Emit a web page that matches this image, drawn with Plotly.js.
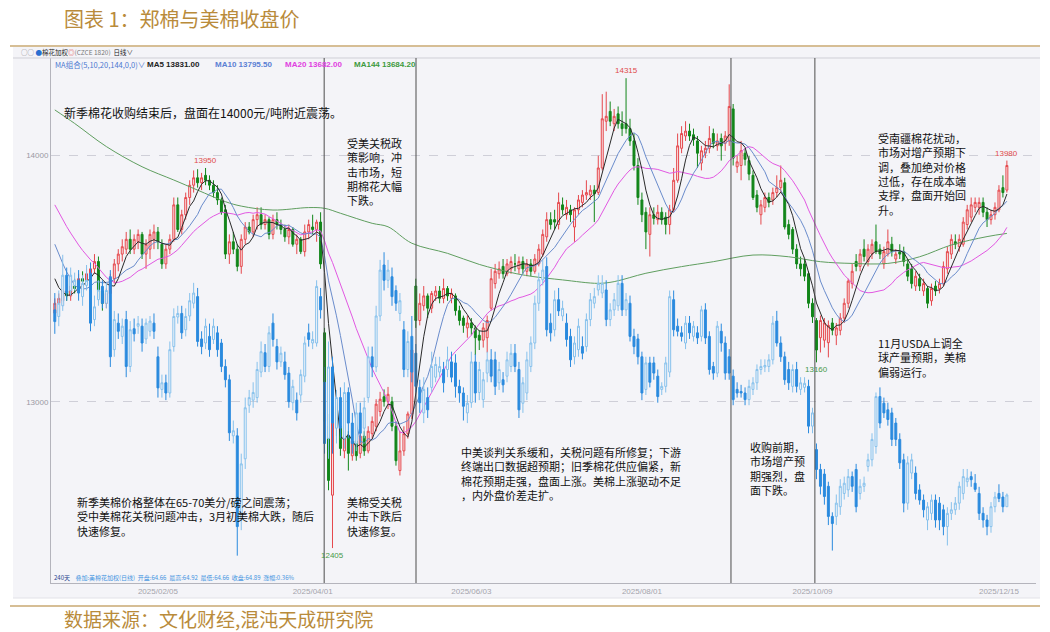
<!DOCTYPE html>
<html><head><meta charset="utf-8">
<script src="https://cdn.plot.ly/plotly-3.0.1.min.js"></script>
<style>html,body{margin:0;padding:0;background:#fff;}#chart{width:1050px;height:632px;}</style>
</head><body><div id="chart"></div>
<script>
// ---------- data ----------
const tickIdx = [26, 65, 105, 148, 191, 238];
const tickText = ['2025/02/05','2025/04/01','2025/06/03','2025/08/01','2025/10/09','2025/12/15'];

// Zhengzhou cotton (CZCE weighted) closes before the visible window
const zcPriorClose = [14050,14020,14000,13990,13980,13950,13930,13920,13900,13860,13840,13810,13780,13750,13720,13600,13540,13500,13460];

const zcOpen = [
13360,13400,13410,13450,13430,13470,13460,13500,13490,13520,
13540,13570,13450,13400,13440,13500,13560,13600,13620,13660,
13620,13650,13680,13600,13620,13660,13690,13640,13560,13620,
13660,13800,13700,13760,13830,13880,13910,13890,13920,13900,
13880,13850,13820,13780,13600,13650,13620,13550,13660,13710,
13690,13740,13760,13720,13740,13680,13740,13720,13700,13670,
13700,13640,13660,13610,13690,13710,13700,13730,13280,12900,
12620,12960,12900,12800,12860,12780,12840,12790,12860,12800,
12870,12900,12960,13020,13000,13000,12900,12720,12800,12870,
12950,13470,13330,13390,13430,13380,13430,13450,13420,13460,
13420,13430,13370,13340,13300,13320,13300,13270,13250,13260,
13380,13480,13520,13550,13520,13540,13560,13540,13570,13530,
13560,13530,13560,13600,13670,13740,13740,13720,13800,13760,
13780,13710,13780,13810,13840,13840,13860,13850,13950,14140,
14180,14130,14170,14130,14130,14110,14060,13960,13820,13770,
13680,13760,13740,13770,13750,13720,13780,13900,14030,14080,
14100,14085,14060,13970,14010,14030,14090,14040,14070,14050,
14060,14190,13955,13960,14010,13980,13920,13840,13760,13790,
13830,13820,13850,13870,13890,13720,13700,13620,13560,13560,
13520,13400,13330,13260,13250,13240,13320,13270,13290,13340,
13400,13480,13570,13550,13620,13570,13600,13650,13620,13560,
13600,13640,13580,13610,13610,13560,13540,13470,13500,13450,
13460,13410,13470,13460,13480,13540,13600,13650,13630,13640,
13720,13750,13790,13790,13810,13770,13740,13760,13780,13870,
13860];
const zcHigh = [
13420,13440,13460,13480,13490,13500,13520,13530,13540,13560,
13600,13590,13470,13460,13520,13580,13620,13660,13690,13700,
13680,13700,13690,13660,13700,13720,13710,13660,13640,13680,
13830,13830,13780,13850,13900,13940,13945,13930,13950,13920,
13900,13880,13830,13800,13680,13690,13640,13680,13730,13730,
13760,13790,13790,13760,13750,13760,13770,13740,13720,13720,
13710,13680,13670,13720,13740,13760,13740,13770,13300,12950,
13050,13000,12930,12880,12880,12860,12870,12880,12880,12900,
12940,13010,13040,13050,13060,13020,12920,12880,12900,12960,
13230,13500,13440,13470,13440,13450,13470,13470,13500,13470,
13460,13440,13390,13350,13350,13340,13310,13290,13320,13350,
13540,13560,13570,13580,13580,13590,13600,13590,13590,13580,
13580,13600,13640,13700,13770,13770,13780,13850,13830,13820,
13800,13790,13840,13860,13900,13880,13880,14000,14250,14260,
14220,14190,14200,14180,14315,14150,14090,13990,13850,13790,
13790,13790,13800,13790,13770,13800,13950,14090,14120,14140,
14130,14110,14080,14040,14060,14120,14110,14090,14090,14100,
14290,14210,14000,14060,14030,14000,13940,13860,13820,13850,
13850,13870,13920,13960,13910,13740,13710,13640,13590,13580,
13530,13420,13340,13350,13340,13330,13340,13320,13360,13420,
13500,13560,13600,13620,13660,13640,13660,13720,13640,13630,
13700,13670,13620,13640,13630,13580,13560,13530,13520,13500,
13470,13480,13490,13500,13570,13630,13680,13680,13680,13750,
13800,13830,13830,13830,13830,13790,13780,13810,13880,13920,
13980];
const zcLow = [
13340,13370,13390,13410,13410,13440,13440,13470,13470,13490,
13520,13420,13370,13380,13420,13480,13530,13570,13600,13600,
13600,13620,13580,13540,13580,13620,13620,13540,13540,13600,
13650,13690,13680,13740,13800,13850,13870,13860,13880,13860,
13830,13800,13760,13580,13560,13600,13530,13520,13640,13680,
13670,13700,13700,13700,13660,13660,13700,13680,13650,13640,
13630,13600,13600,13590,13660,13680,13650,13540,12900,12640,
12405,12860,12780,12770,12720,12760,12760,12770,12780,12790,
12850,12880,12940,12980,12970,12880,12740,12700,12780,12850,
12930,13300,13310,13370,13340,13360,13410,13400,13400,13410,
13400,13350,13310,13280,13260,13270,13190,13210,13220,13200,
13370,13460,13500,13500,13510,13520,13530,13520,13520,13510,
13510,13520,13550,13590,13650,13700,13700,13700,13760,13740,
13730,13650,13760,13790,13820,13820,13730,13840,13940,14100,
14120,14100,14110,14080,14090,14040,13940,13800,13730,13620,
13590,13720,13720,13720,13680,13680,13770,13890,14010,14060,
14060,14040,13950,13940,13990,14010,14030,14020,13980,14020,
14040,13960,13930,13900,13960,13900,13820,13770,13720,13770,
13790,13800,13830,13850,13700,13660,13600,13540,13510,13490,
13380,13320,13160,13200,13220,13180,13270,13230,13270,13320,
13380,13460,13530,13530,13570,13550,13580,13600,13580,13540,
13590,13590,13560,13580,13550,13490,13460,13450,13450,13430,
13380,13390,13430,13440,13470,13520,13580,13620,13610,13630,
13700,13730,13770,13760,13750,13710,13720,13740,13770,13830,
13850];
const zcClose = [
13400,13420,13450,13430,13470,13460,13500,13490,13520,13540,
13570,13450,13400,13440,13500,13560,13600,13630,13660,13620,
13660,13680,13600,13640,13680,13690,13650,13560,13620,13660,
13800,13700,13760,13830,13880,13910,13890,13910,13900,13880,
13850,13820,13770,13600,13650,13620,13550,13660,13710,13690,
13740,13760,13720,13740,13680,13740,13720,13700,13670,13700,
13640,13660,13610,13690,13720,13700,13730,13560,12920,12680,
12980,12900,12810,12860,12790,12840,12780,12860,12800,12880,
12920,12990,13010,13000,13030,12900,12760,12800,12870,12950,
13210,13330,13400,13430,13380,13440,13450,13420,13460,13430,
13440,13370,13330,13310,13320,13300,13260,13250,13300,13330,
13500,13530,13540,13520,13560,13570,13560,13570,13540,13560,
13530,13580,13620,13680,13740,13720,13730,13810,13780,13790,
13760,13780,13820,13840,13850,13860,13845,13950,14150,14160,
14140,14160,14130,14110,14110,14060,13960,13830,13760,13690,
13760,13745,13770,13740,13720,13780,13900,14040,14090,14100,
14080,14065,14010,14020,14030,14070,14050,14060,14040,14080,
14200,13990,13975,14020,13985,13925,13830,13790,13800,13830,
13810,13850,13870,13900,13710,13680,13620,13560,13540,13510,
13400,13345,13210,13330,13320,13310,13290,13300,13340,13400,
13490,13530,13550,13600,13590,13620,13640,13610,13600,13610,
13650,13610,13600,13600,13570,13510,13480,13510,13470,13480,
13400,13460,13450,13480,13550,13610,13660,13640,13660,13730,
13780,13800,13810,13810,13770,13740,13760,13790,13860,13850,
13960];

// ICE cotton weighted (US cents/lb), overlay
const usOpen = [
68.52,68.39,68.60,69.20,68.90,69.00,69.10,68.78,69.00,69.24,
68.33,68.72,68.98,68.65,69.17,67.74,68.26,68.00,68.33,67.41,
68.15,68.20,68.20,67.95,68.10,68.26,67.60,66.96,67.09,66.89,
67.80,68.38,68.45,68.13,68.40,68.65,68.78,67.95,67.87,68.00,
67.94,68.07,67.87,67.41,67.15,66.05,66.05,64.40,65.60,66.65,
66.75,66.80,67.30,67.68,67.41,68.26,67.80,67.50,67.50,67.28,
66.70,66.75,66.85,67.22,68.07,67.87,67.87,68.78,67.10,66.00,
67.40,66.20,66.80,66.00,66.90,66.30,65.90,66.50,66.20,66.80,
67.60,67.40,68.40,69.40,69.10,69.17,68.90,68.45,68.13,67.35,
68.00,67.67,67.00,66.50,66.80,67.00,67.20,67.30,67.35,67.35,
67.50,67.48,67.02,66.89,66.50,66.70,67.50,66.90,66.76,67.28,
67.54,67.54,67.09,67.15,67.22,67.41,67.67,67.35,66.69,66.89,
67.41,67.87,68.65,69.11,69.37,68.26,68.13,68.72,68.40,68.26,
68.00,67.60,67.74,67.80,67.80,68.33,68.65,68.91,68.85,68.91,
68.33,68.52,68.60,69.04,68.52,68.65,68.00,67.95,67.60,66.96,
67.48,67.48,67.22,66.96,67.02,67.30,68.72,68.20,68.07,67.87,
68.26,68.00,68.07,68.00,68.52,68.00,67.41,67.28,68.10,67.87,
67.60,67.22,66.96,66.92,66.89,66.76,66.96,67.09,67.35,67.40,
67.41,67.54,68.30,67.87,67.60,67.35,67.02,67.35,66.96,67.00,
67.02,66.24,65.78,65.39,65.30,65.06,64.47,64.47,64.66,64.92,
64.99,65.25,65.39,64.92,65.06,65.45,65.58,65.84,66.82,66.69,
66.56,66.50,66.30,65.98,65.58,64.73,65.32,65.32,64.99,64.79,
64.40,64.53,64.79,64.73,64.60,64.27,64.53,64.60,64.73,64.92,
65.15,65.25,65.12,64.92,64.53,64.40,64.27,64.66,64.92,64.85,
64.66];
const usHigh = [
68.85,68.90,69.60,69.35,69.35,69.25,69.30,69.20,69.40,69.45,
68.80,69.10,69.10,69.05,69.30,68.50,68.45,68.35,68.50,68.30,
68.35,68.40,68.35,68.35,68.40,68.45,67.80,67.25,67.25,67.90,
68.55,68.60,68.60,68.55,68.85,69.05,68.95,68.10,68.35,68.25,
68.35,68.20,67.95,67.55,67.25,66.35,66.20,65.70,66.80,66.95,
67.10,67.50,67.90,67.85,68.20,68.45,67.95,67.80,67.70,67.40,
67.15,66.90,67.35,68.00,68.25,68.10,69.10,68.95,67.40,67.90,
67.60,66.95,67.00,67.10,67.00,66.50,66.70,66.70,66.80,67.80,
67.80,68.60,69.50,69.65,69.50,69.35,69.00,68.85,68.30,68.10,
68.40,67.85,67.15,67.20,67.00,67.70,67.60,67.60,67.50,67.80,
67.70,67.65,67.15,67.00,66.85,67.70,67.65,67.50,67.30,67.70,
67.75,67.70,67.50,67.30,67.70,67.85,67.85,67.50,67.20,67.70,
68.00,68.80,69.25,69.50,69.55,68.45,68.90,68.95,68.70,68.45,
68.15,68.00,68.35,68.00,68.45,68.85,68.95,69.20,69.20,69.10,
68.65,68.85,69.20,69.20,68.85,68.80,68.15,68.05,67.70,67.60,
67.60,67.60,67.35,67.10,67.60,68.90,68.90,68.35,68.20,68.40,
68.40,68.30,68.20,68.60,68.65,68.10,67.50,68.30,68.25,68.00,
67.75,67.35,67.10,67.05,67.00,67.15,67.20,67.45,67.55,67.55,
67.65,68.40,68.50,68.00,67.70,67.50,67.45,67.50,67.20,67.20,
67.15,66.60,65.90,65.50,65.40,65.15,64.55,64.90,65.20,65.25,
65.40,65.35,65.50,65.20,65.25,65.70,66.10,66.90,67.00,66.80,
66.70,66.60,66.40,66.10,65.70,65.65,65.70,65.45,65.10,64.90,
64.75,64.90,64.90,64.85,64.70,64.65,64.75,64.85,65.15,65.40,
65.40,65.35,65.30,65.05,64.65,64.50,64.75,64.95,65.10,64.95,
64.92];
const usLow = [
68.05,68.20,68.50,68.70,68.80,68.90,68.70,68.60,68.90,68.10,
68.20,68.60,68.55,68.55,67.40,67.60,67.95,67.85,67.20,67.30,
67.90,68.05,67.70,67.85,68.00,67.95,66.80,66.80,66.75,66.80,
67.70,68.25,67.95,68.00,68.30,68.55,67.80,67.65,67.75,67.60,
67.85,67.60,67.30,67.00,65.95,65.90,63.70,64.20,65.40,66.50,
66.60,66.70,67.20,67.30,67.30,67.80,67.35,67.40,67.15,66.60,
66.55,66.35,66.70,67.10,67.80,67.75,67.80,68.35,65.70,65.60,
65.70,65.90,66.00,65.80,66.00,65.70,65.75,65.90,66.00,66.70,
67.20,67.30,68.30,68.90,68.95,68.60,68.50,68.30,67.20,67.20,
67.10,66.90,66.50,66.30,66.40,66.90,67.10,67.20,66.90,67.20,
67.10,66.80,66.70,66.35,66.30,66.60,66.70,66.75,66.60,67.10,
67.10,66.85,66.95,66.90,67.10,67.30,67.30,66.40,66.50,66.75,
67.30,67.75,68.50,69.00,68.00,67.90,68.00,68.40,68.30,67.80,
67.40,67.45,67.60,67.55,67.70,68.20,68.55,68.80,68.75,68.20,
68.20,68.40,68.50,68.40,68.40,67.90,67.65,67.45,66.75,66.85,
67.00,67.15,66.70,66.85,66.90,67.20,68.00,68.00,67.90,67.75,
67.95,67.90,67.85,67.90,67.85,67.25,67.15,67.20,67.70,67.15,
67.15,66.65,66.80,66.80,66.65,66.65,66.85,66.95,67.25,67.30,
67.30,67.45,67.80,67.50,67.05,66.95,66.90,66.90,66.85,66.90,
66.10,66.10,65.20,64.90,64.70,64.30,63.80,64.30,64.50,64.80,
64.85,64.95,64.55,64.80,64.95,65.35,65.45,65.70,66.20,66.40,
66.25,65.85,65.85,65.40,64.55,64.60,65.20,64.80,64.70,64.45,
64.20,64.40,64.25,64.20,64.10,63.90,64.40,64.50,64.60,64.80,
65.05,65.05,64.95,64.40,64.25,64.10,64.15,64.55,64.75,64.55,
64.66];
const usClose = [
68.29,68.65,69.20,68.85,69.20,69.10,68.85,69.04,69.10,68.26,
68.58,68.91,68.65,68.90,67.60,68.33,68.10,68.20,67.41,68.13,
68.05,68.25,67.87,68.26,68.30,68.10,66.99,67.09,66.89,67.74,
68.39,68.45,68.07,68.39,68.70,68.85,67.90,67.80,68.20,67.74,
68.20,67.74,67.41,67.15,66.11,66.15,64.27,65.50,66.60,66.80,
66.90,67.35,67.70,67.41,68.07,67.94,67.50,67.67,67.25,66.72,
67.02,66.50,67.25,67.87,67.94,67.94,68.98,68.52,65.90,67.40,
66.30,66.80,66.20,66.90,66.30,65.90,66.50,66.10,66.60,67.60,
67.40,68.40,69.30,69.10,69.30,68.78,68.65,68.70,67.35,67.90,
67.30,67.02,66.70,66.96,66.56,67.41,67.45,67.41,67.09,67.54,
67.20,67.02,66.89,66.63,66.69,67.50,66.89,67.35,67.15,67.54,
67.22,67.02,67.35,67.05,67.54,67.67,67.41,66.56,67.09,67.54,
67.87,68.65,69.11,69.30,68.13,68.07,68.72,68.50,68.55,67.94,
67.54,67.87,68.20,67.67,68.33,68.72,68.78,69.04,69.04,68.33,
68.52,68.72,69.04,68.52,68.72,68.00,67.80,67.60,66.89,67.48,
67.10,67.28,66.82,67.02,67.48,68.78,68.13,68.10,68.00,68.26,
68.07,68.20,67.97,68.52,67.97,67.35,67.28,68.20,67.87,67.28,
67.28,66.76,66.89,66.89,66.76,67.02,67.09,67.35,67.41,67.43,
67.54,68.26,67.87,67.60,67.15,67.09,67.35,67.02,67.09,67.08,
66.24,66.50,65.39,65.06,64.86,64.47,64.33,64.73,65.06,65.12,
65.25,65.06,64.66,65.06,65.12,65.58,65.98,66.82,66.30,66.50,
66.37,65.98,65.98,65.52,64.73,65.52,65.58,64.92,64.79,64.60,
64.66,64.79,64.40,64.40,64.27,64.53,64.60,64.73,65.06,65.25,
65.22,65.19,65.00,64.53,64.40,64.27,64.66,64.85,64.82,64.66,
64.89];

// MA144 (needs history beyond the window)
const ma144Idx = [0,5,13,22,30,36,43,47,55,64,68,72,80,84,90,99,107,115,120,128,137,141,149,158,166,176,185,193,201,210,218,226,235,240];
const ma144Val = [14186,14131,14037,13955,13901,13860,13813,13795,13779,13789,13786,13766,13725,13711,13644,13603,13558,13525,13510,13495,13481,13488,13522,13549,13569,13596,13589,13569,13562,13562,13589,13637,13671,13684];

// ---------- geometry ----------
const PL = 51, PR = 1036, PT = 58, PB = 583;
const px = X => (X - PL) / (PR - PL);
const py = Y => (PB - Y) / (PB - PT);
const STEP = 3.967, X0 = 54.8;
const xRange = [(PL - X0) / STEP, (PR - X0) / STEP];
const yRange = [12263, 14397];
const y2Range = [63.164, 73.459];
const dividerIdx = [67.9, 91.05, 170.45, 191.6];

const N = zcClose.length;
const idx = Array.from({length: N}, (_, i) => i);
function sma(n) {
  const all = zcPriorClose.concat(zcClose), off = zcPriorClose.length;
  return zcClose.map((_, i) => {
    const k = i + off, s = Math.max(0, k - n + 1);
    let sum = 0; for (let j = s; j <= k; j++) sum += all[j];
    return sum / (k - s + 1);
  });
}

const CJK = '"Noto Sans CJK SC", "Noto Sans", sans-serif';
const LAT = '"Liberation Sans", Arial, sans-serif';

const traces = [
  {type:'candlestick', x: idx, open: usOpen, high: usHigh, low: usLow, close: usClose, yaxis:'y2',
   increasing:{line:{color:'#86c1ec', width:1}, fillcolor:'rgba(246,246,250,0.95)'},
   decreasing:{line:{color:'#2a8ade', width:1}, fillcolor:'#2a8ade'},
   whiskerwidth:0, hoverinfo:'skip', showlegend:false},
  {type:'candlestick', x: idx, open: zcOpen, high: zcHigh, low: zcLow, close: zcClose,
   increasing:{line:{color:'#e5474c', width:1}, fillcolor:'#fbe8e9'},
   decreasing:{line:{color:'#12861a', width:1}, fillcolor:'#12861a'},
   whiskerwidth:0, hoverinfo:'skip', showlegend:false},
  {type:'scatter', mode:'lines', x: ma144Idx, y: ma144Val, line:{color:'#5f9e5f', width:1, shape:'spline'}, hoverinfo:'skip', showlegend:false},
  {type:'scatter', mode:'lines', x: idx, y: sma(20), line:{color:'#e258e2', width:1}, hoverinfo:'skip', showlegend:false},
  {type:'scatter', mode:'lines', x: idx, y: sma(10), line:{color:'#6a8ccc', width:1}, hoverinfo:'skip', showlegend:false},
  {type:'scatter', mode:'lines', x: idx, y: sma(5), line:{color:'#2a2a2a', width:1}, hoverinfo:'skip', showlegend:false}
];

// ---------- texts ----------
const anns = [];
function txt(text, X, Y, size, color, family, anchor) {
  anns.push({xref:'paper', yref:'paper', x: px(X), y: py(Y), text: text, showarrow:false,
    xanchor: anchor || 'left', yanchor:'middle', font:{family: family || CJK, size: size, color: color}});
}
// multi-line note: one text element, first line centred near Y
function block(lines, X, Y) {
  anns.push({xref:'paper', yref:'paper', x: px(X), y: py(Y - 8), text: lines.join('<br>'), showarrow:false,
    xanchor:'left', yanchor:'top', align:'left', borderpad:0, font:{family: CJK, size: 11, color:'#111111'}});
}

txt('图表 1：郑棉与美棉收盘价', 62, 18, 20, '#b98b3b');
txt('数据来源：文化财经,混沌天成研究院', 62, 618, 19, '#b98b3b');

txt('<span style="color:#888">○○</span> <span style="color:#2a6fd0">●</span>棉花加权<span style="color:#e05050">◎</span><span style="color:#777">(CZCE 1820)</span>  日线∨', 19, 52, 6.5, '#222');
txt('MA组合(5,10,20,144,0,0)∨', 53, 64, 7.5, '#4a78d0');
txt('<b>MA5 13831.00</b>', 145, 64, 8, '#222222', LAT);
txt('<b>MA10 13795.50</b>', 213, 64, 8, '#5b80d4', LAT);
txt('<b>MA20 13682.00</b>', 283, 64, 8, '#e040e0', LAT);
txt('<b>MA144 13684.20</b>', 352, 64, 8, '#3e9a3e', LAT);

txt('<span style="color:#1c3f8c">240天</span>    叠加:美棉花加权(日线)  开盘:64.66  最高:64.92  最低:64.66  收盘:64.89  涨幅:0.36%', 52, 577, 6, '#3f93e0');

txt('新季棉花收购结束后，盘面在14000元/吨附近震荡。', 62, 112, 12, '#111111');
block(['受美关税政','策影响，冲','击市场，短','期棉花大幅','下跌。'], 346, 142);
block(['新季美棉价格整体在65-70美分/磅之间震荡；','受中美棉花关税问题冲击，3月初美棉大跌，随后','快速修复。'], 76, 501);
block(['美棉受关税','冲击下跌后','快速修复。'], 346, 501);
block(['中美谈判关系缓和，关税问题有所修复；下游','终端出口数据超预期；旧季棉花供应偏紧，新','棉花预期走强，盘面上涨。美棉上涨驱动不足','，内外盘价差走扩。'], 460, 451);
block(['收购前期，','市场增产预','期强烈，盘','面下跌。'], 749, 446);
block(['受南疆棉花扰动，','市场对增产预期下','调，叠加绝对价格','过低，存在成本端','支撑，盘面开始回','升。'], 877, 137);
block(['11月USDA上调全','球产量预期，美棉','偏弱运行。'], 877, 342);

// price labels on extreme candles, found from the data
function argExt(arr, a, b, isMax) {
  let k = a; for (let i = a; i <= b; i++) if (isMax ? arr[i] > arr[k] : arr[i] < arr[k]) k = i; return k;
}
function priceLabel(k, val, up, color) {
  anns.push({xref:'x', yref:'y', x: k, y: val, text: String(val), showarrow:false,
    xanchor:'center', yanchor: up ? 'bottom' : 'top', yshift: up ? 1 : -1,
    font:{family: LAT, size: 8, color: color}});
}
let k1 = argExt(zcHigh, 0, 67, true);   priceLabel(k1, zcHigh[k1], true, '#e04a4a');
let k2 = argExt(zcHigh, 0, N - 1, true); priceLabel(k2, zcHigh[k2], true, '#e04a4a');
priceLabel(N - 1, zcHigh[N - 1], true, '#e04a4a');
let k3 = argExt(zcLow, 0, N - 1, false); priceLabel(k3, zcLow[k3], false, '#4a9a4a');
let k4 = argExt(zcLow, 175, N - 1, false); priceLabel(k4, zcLow[k4], false, '#4a9a4a');

// ---------- shapes ----------
const shapes = [
  {type:'rect', xref:'paper', yref:'paper', x0: px(13), x1: px(1040), y0: py(598), y1: py(47), fillcolor:'#f4f4f8', line:{width:0}, layer:'below'},
  {type:'line', xref:'paper', yref:'paper', x0: px(13), x1: px(1040), y0: py(58), y1: py(58), line:{color:'#cfcfd6', width:1}},
  {type:'line', xref:'paper', yref:'paper', x0: px(13), x1: px(1040), y0: py(598), y1: py(598), line:{color:'#e2e2e8', width:1}},
  {type:'line', xref:'paper', yref:'paper', x0: px(10), x1: px(1040), y0: py(46), y1: py(46), line:{color:'#c9a872', width:1.5}},
  {type:'line', xref:'paper', yref:'paper', x0: px(10), x1: px(1040), y0: py(606), y1: py(606), line:{color:'#c9a872', width:1.5}}
];
dividerIdx.forEach(d => shapes.push({type:'line', xref:'x', yref:'paper', x0: d, x1: d, y0: 0, y1: 1, line:{color:'#4d4d4d', width:1}, layer:'above'}));

const layout = {
  width: 1050, height: 632,
  margin: {l: PL, r: 1050 - PR, t: PT, b: 632 - PB, pad: 0},
  paper_bgcolor: '#ffffff', plot_bgcolor: '#f4f4f8',
  showlegend: false,
  xaxis: {range: xRange, rangeslider:{visible:false}, showgrid:false, zeroline:false,
          showline:true, linecolor:'#b4b4bc', linewidth:1, ticks:'', tickvals: tickIdx, ticktext: tickText,
          tickfont:{family: LAT, size: 8, color:'#a4a4ac'}, automargin:false, fixedrange:true},
  yaxis: {range: yRange, tickvals:[13000, 14000], ticktext:['13000','14000'], ticks:'',
          tickfont:{family: LAT, size: 8, color:'#9a9aa4'}, showgrid:true, gridcolor:'#cfcfd8', griddash:'dash',
          gridwidth:1, zeroline:false, showline:true, linecolor:'#b4b4bc', automargin:false, fixedrange:true},
  yaxis2: {range: y2Range, overlaying:'y', side:'right', visible:false, showgrid:false, zeroline:false, fixedrange:true},
  annotations: anns,
  shapes: shapes
};

Plotly.newPlot('chart', traces, layout, {displayModeBar:false, staticPlot:true});
</script>
</body></html>
